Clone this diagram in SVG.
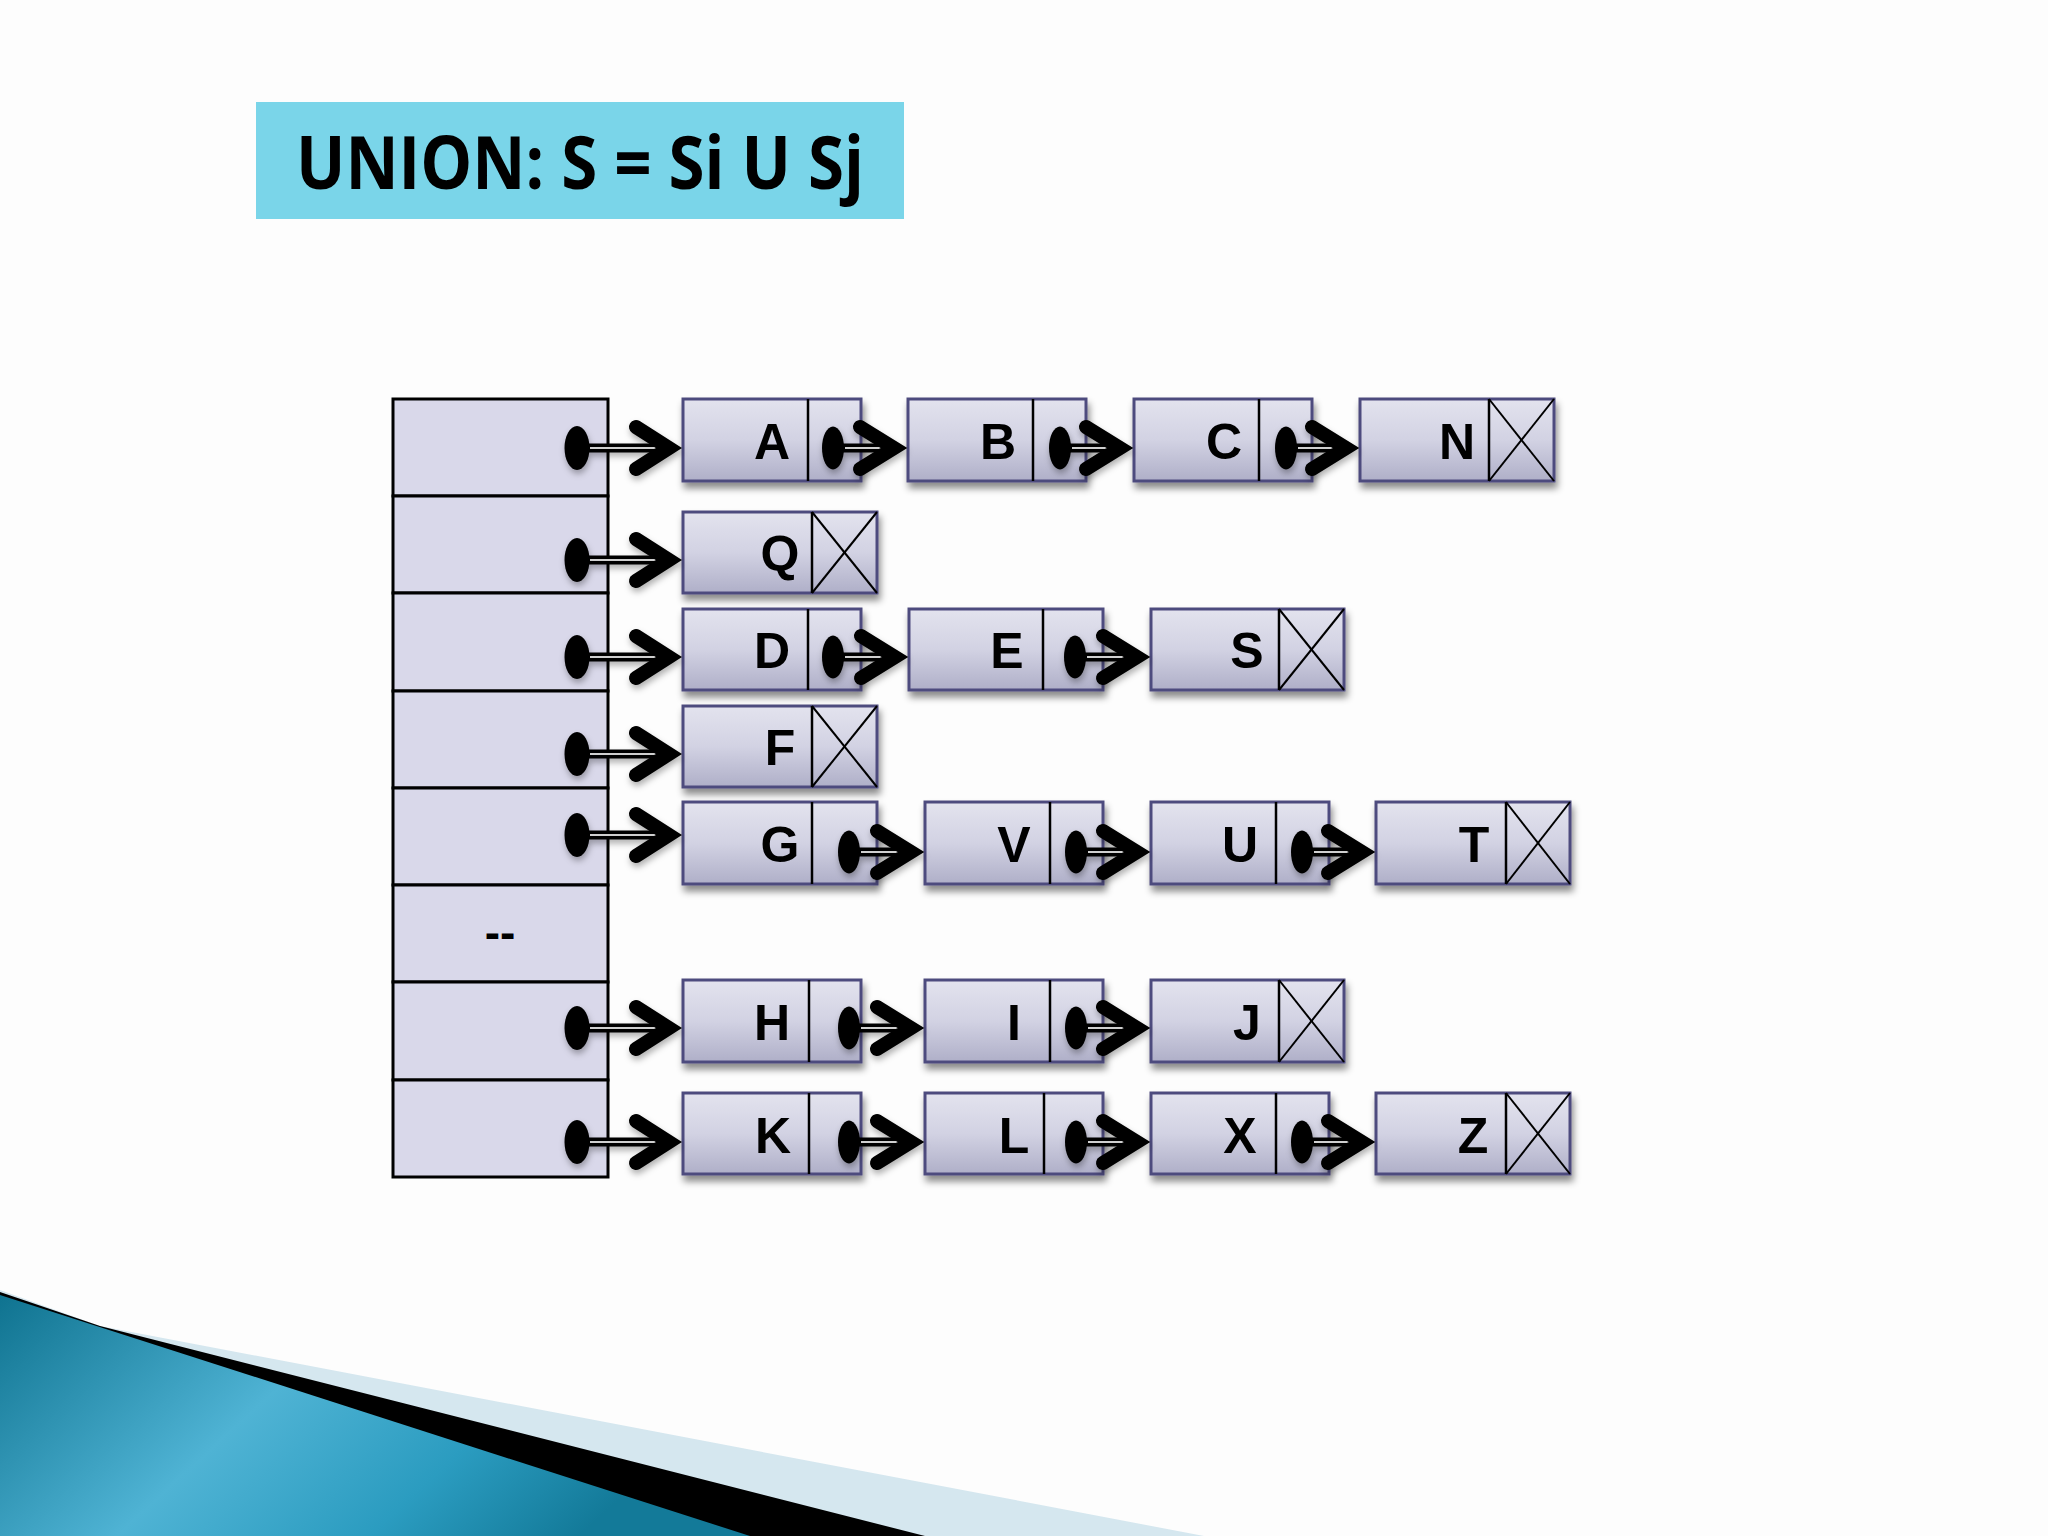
<svg xmlns="http://www.w3.org/2000/svg" width="2048" height="1536" viewBox="0 0 2048 1536">
<defs>
<linearGradient id="ng" x1="0" y1="0" x2="0" y2="1">
<stop offset="0" stop-color="#e3e3ee"/>
<stop offset="0.5" stop-color="#d2d2e3"/>
<stop offset="1" stop-color="#afafc8"/>
</linearGradient>
<linearGradient id="teal" x1="0" y1="0" x2="1" y2="0.35">
<stop offset="0" stop-color="#0f7390"/>
<stop offset="0.45" stop-color="#4fb3d4"/>
<stop offset="0.75" stop-color="#2b9cc0"/>
<stop offset="1" stop-color="#137a99"/>
</linearGradient>
<filter id="sh" x="-10%" y="-10%" width="130%" height="140%">
<feDropShadow dx="2" dy="6" stdDeviation="3.5" flood-color="#000" flood-opacity="0.45"/>
</filter>
<filter id="sh2" x="-10%" y="-20%" width="130%" height="150%">
<feDropShadow dx="1" dy="4" stdDeviation="3" flood-color="#000" flood-opacity="0.3"/>
</filter>
<style>
.nb{fill:url(#ng);stroke:#4e4b7e;stroke-width:3}
.dv{stroke:#000;stroke-width:2.5}
.x{stroke:#000;stroke-width:2}
.lbl{font-family:"Liberation Sans",Arial,sans-serif;font-weight:bold;font-size:50px;text-anchor:middle;fill:#000}
.cell{fill:#d9d8ea;stroke:#000;stroke-width:3}
.dot{fill:#000}
.sh1{stroke:#000;stroke-width:9}
.sh2{stroke:#cfcfcf;stroke-width:2}
.hd{fill:none;stroke:#000;stroke-width:14;stroke-linecap:round;stroke-linejoin:miter}
.title{font-family:"Open Sans","Liberation Sans",sans-serif;font-weight:bold;font-size:74px;fill:#000}
</style>
</defs>
<rect width="2048" height="1536" fill="#fdfdfd"/>
<g id="decoration">
<polygon points="0,1290 100,1326 1204,1536 0,1536" fill="#d5e7ef"/>
<polygon points="0,1292 100,1326 925,1536 0,1536" fill="#000"/>
<polygon points="0,1295 750,1536 0,1536" fill="url(#teal)"/>
</g>
<g id="title">
<rect x="256" y="102" width="648" height="117" fill="#7ad5e9"/>
<text class="title" x="296" y="189" textLength="568" lengthAdjust="spacingAndGlyphs">UNION: S = Si U Sj</text>
</g>
<g id="array">
<rect class="cell" x="393" y="399" width="215" height="97"/>
<rect class="cell" x="393" y="496" width="215" height="97"/>
<rect class="cell" x="393" y="593" width="215" height="98"/>
<rect class="cell" x="393" y="691" width="215" height="97"/>
<rect class="cell" x="393" y="788" width="215" height="97"/>
<rect class="cell" x="393" y="885" width="215" height="97"/>
<rect class="cell" x="393" y="982" width="215" height="98"/>
<rect class="cell" x="393" y="1080" width="215" height="97"/>
<text class="lbl" x="500" y="948" style="font-size:46px">--</text>
</g>
<g id="nodes" filter="url(#sh)">
<g id="node-A"><rect class="nb" x="683" y="399" width="178" height="82"/><line class="dv" x1="808" y1="399" x2="808" y2="481"/><text class="lbl" x="772" y="459">A</text></g>
<g id="node-B"><rect class="nb" x="908" y="399" width="178" height="82"/><line class="dv" x1="1033" y1="399" x2="1033" y2="481"/><text class="lbl" x="998" y="459">B</text></g>
<g id="node-C"><rect class="nb" x="1134" y="399" width="178" height="82"/><line class="dv" x1="1259" y1="399" x2="1259" y2="481"/><text class="lbl" x="1224" y="459">C</text></g>
<g id="node-N"><rect class="nb" x="1360" y="399" width="194" height="82"/><line class="dv" x1="1489" y1="399" x2="1489" y2="481"/><line class="x" x1="1489" y1="399" x2="1554" y2="481"/><line class="x" x1="1489" y1="481" x2="1554" y2="399"/><text class="lbl" x="1457" y="459">N</text></g>
<g id="node-Q"><rect class="nb" x="683" y="512" width="194" height="81"/><line class="dv" x1="812" y1="512" x2="812" y2="593"/><line class="x" x1="812" y1="512" x2="877" y2="593"/><line class="x" x1="812" y1="593" x2="877" y2="512"/><text class="lbl" x="780" y="571">Q</text></g>
<g id="node-D"><rect class="nb" x="683" y="609" width="178" height="81"/><line class="dv" x1="808" y1="609" x2="808" y2="690"/><text class="lbl" x="772" y="668">D</text></g>
<g id="node-E"><rect class="nb" x="909" y="609" width="194" height="81"/><line class="dv" x1="1043" y1="609" x2="1043" y2="690"/><text class="lbl" x="1007" y="668">E</text></g>
<g id="node-S"><rect class="nb" x="1151" y="609" width="193" height="81"/><line class="dv" x1="1279" y1="609" x2="1279" y2="690"/><line class="x" x1="1279" y1="609" x2="1344" y2="690"/><line class="x" x1="1279" y1="690" x2="1344" y2="609"/><text class="lbl" x="1247" y="668">S</text></g>
<g id="node-F"><rect class="nb" x="683" y="706" width="194" height="81"/><line class="dv" x1="812" y1="706" x2="812" y2="787"/><line class="x" x1="812" y1="706" x2="877" y2="787"/><line class="x" x1="812" y1="787" x2="877" y2="706"/><text class="lbl" x="780" y="765">F</text></g>
<g id="node-G"><rect class="nb" x="683" y="802" width="194" height="82"/><line class="dv" x1="812" y1="802" x2="812" y2="884"/><text class="lbl" x="780" y="862">G</text></g>
<g id="node-V"><rect class="nb" x="925" y="802" width="178" height="82"/><line class="dv" x1="1050" y1="802" x2="1050" y2="884"/><text class="lbl" x="1014" y="862">V</text></g>
<g id="node-U"><rect class="nb" x="1151" y="802" width="178" height="82"/><line class="dv" x1="1276" y1="802" x2="1276" y2="884"/><text class="lbl" x="1240" y="862">U</text></g>
<g id="node-T"><rect class="nb" x="1376" y="802" width="194" height="82"/><line class="dv" x1="1506" y1="802" x2="1506" y2="884"/><line class="x" x1="1506" y1="802" x2="1570" y2="884"/><line class="x" x1="1506" y1="884" x2="1570" y2="802"/><text class="lbl" x="1474" y="862">T</text></g>
<g id="node-H"><rect class="nb" x="683" y="980" width="178" height="82"/><line class="dv" x1="809" y1="980" x2="809" y2="1062"/><text class="lbl" x="772" y="1040">H</text></g>
<g id="node-I"><rect class="nb" x="925" y="980" width="178" height="82"/><line class="dv" x1="1050" y1="980" x2="1050" y2="1062"/><text class="lbl" x="1014" y="1040">I</text></g>
<g id="node-J"><rect class="nb" x="1151" y="980" width="193" height="82"/><line class="dv" x1="1279" y1="980" x2="1279" y2="1062"/><line class="x" x1="1279" y1="980" x2="1344" y2="1062"/><line class="x" x1="1279" y1="1062" x2="1344" y2="980"/><text class="lbl" x="1247" y="1040">J</text></g>
<g id="node-K"><rect class="nb" x="683" y="1093" width="178" height="81"/><line class="dv" x1="809" y1="1093" x2="809" y2="1174"/><text class="lbl" x="773" y="1153">K</text></g>
<g id="node-L"><rect class="nb" x="925" y="1093" width="178" height="81"/><line class="dv" x1="1044" y1="1093" x2="1044" y2="1174"/><text class="lbl" x="1014" y="1153">L</text></g>
<g id="node-X"><rect class="nb" x="1151" y="1093" width="178" height="81"/><line class="dv" x1="1276" y1="1093" x2="1276" y2="1174"/><text class="lbl" x="1240" y="1153">X</text></g>
<g id="node-Z"><rect class="nb" x="1376" y="1093" width="194" height="81"/><line class="dv" x1="1506" y1="1093" x2="1506" y2="1174"/><line class="x" x1="1506" y1="1093" x2="1570" y2="1174"/><line class="x" x1="1506" y1="1174" x2="1570" y2="1093"/><text class="lbl" x="1473" y="1153">Z</text></g>
</g>
<g id="connectors" filter="url(#sh2)">
<g><ellipse class="dot" cx="577" cy="448" rx="12.5" ry="22"/><line class="sh1" x1="577" y1="448" x2="666" y2="448"/><line class="sh2" x1="590" y1="448" x2="660" y2="448"/><polyline class="hd" points="636,427 669,448 636,469"/></g>
<g><ellipse class="dot" cx="577" cy="560" rx="12.5" ry="22"/><line class="sh1" x1="577" y1="560" x2="666" y2="560"/><line class="sh2" x1="590" y1="560" x2="660" y2="560"/><polyline class="hd" points="636,539 669,560 636,581"/></g>
<g><ellipse class="dot" cx="577" cy="657" rx="12.5" ry="22"/><line class="sh1" x1="577" y1="657" x2="666" y2="657"/><line class="sh2" x1="590" y1="657" x2="660" y2="657"/><polyline class="hd" points="636,636 669,657 636,678"/></g>
<g><ellipse class="dot" cx="577" cy="754" rx="12.5" ry="22"/><line class="sh1" x1="577" y1="754" x2="666" y2="754"/><line class="sh2" x1="590" y1="754" x2="660" y2="754"/><polyline class="hd" points="636,733 669,754 636,775"/></g>
<g><ellipse class="dot" cx="577" cy="835" rx="12.5" ry="22"/><line class="sh1" x1="577" y1="835" x2="666" y2="835"/><line class="sh2" x1="590" y1="835" x2="660" y2="835"/><polyline class="hd" points="636,814 669,835 636,856"/></g>
<g><ellipse class="dot" cx="577" cy="1028" rx="12.5" ry="22"/><line class="sh1" x1="577" y1="1028" x2="666" y2="1028"/><line class="sh2" x1="590" y1="1028" x2="660" y2="1028"/><polyline class="hd" points="636,1007 669,1028 636,1049"/></g>
<g><ellipse class="dot" cx="577" cy="1142" rx="12.5" ry="22"/><line class="sh1" x1="577" y1="1142" x2="666" y2="1142"/><line class="sh2" x1="590" y1="1142" x2="660" y2="1142"/><polyline class="hd" points="636,1121 669,1142 636,1163"/></g>
<g><ellipse class="dot" cx="833" cy="448" rx="11" ry="21.5"/><line class="sh1" x1="833" y1="448" x2="892" y2="448"/><line class="sh2" x1="845" y1="448" x2="886" y2="448"/><polyline class="hd" points="860,427 894,448 860,469"/></g>
<g><ellipse class="dot" cx="1060" cy="448" rx="11" ry="21.5"/><line class="sh1" x1="1060" y1="448" x2="1118" y2="448"/><line class="sh2" x1="1072" y1="448" x2="1112" y2="448"/><polyline class="hd" points="1086,427 1120,448 1086,469"/></g>
<g><ellipse class="dot" cx="1286" cy="448" rx="11" ry="21.5"/><line class="sh1" x1="1286" y1="448" x2="1344" y2="448"/><line class="sh2" x1="1298" y1="448" x2="1338" y2="448"/><polyline class="hd" points="1312,427 1346,448 1312,469"/></g>
<g><ellipse class="dot" cx="833" cy="657" rx="11" ry="21.5"/><line class="sh1" x1="833" y1="657" x2="893" y2="657"/><line class="sh2" x1="845" y1="657" x2="887" y2="657"/><polyline class="hd" points="861,636 895,657 861,678"/></g>
<g><ellipse class="dot" cx="1075" cy="657" rx="11" ry="21.5"/><line class="sh1" x1="1075" y1="657" x2="1135" y2="657"/><line class="sh2" x1="1087" y1="657" x2="1129" y2="657"/><polyline class="hd" points="1103,636 1137,657 1103,678"/></g>
<g><ellipse class="dot" cx="849" cy="852" rx="11" ry="21.5"/><line class="sh1" x1="849" y1="852" x2="909" y2="852"/><line class="sh2" x1="861" y1="852" x2="903" y2="852"/><polyline class="hd" points="877,831 911,852 877,873"/></g>
<g><ellipse class="dot" cx="1076" cy="852" rx="11" ry="21.5"/><line class="sh1" x1="1076" y1="852" x2="1135" y2="852"/><line class="sh2" x1="1088" y1="852" x2="1129" y2="852"/><polyline class="hd" points="1103,831 1137,852 1103,873"/></g>
<g><ellipse class="dot" cx="1302" cy="852" rx="11" ry="21.5"/><line class="sh1" x1="1302" y1="852" x2="1360" y2="852"/><line class="sh2" x1="1314" y1="852" x2="1354" y2="852"/><polyline class="hd" points="1328,831 1362,852 1328,873"/></g>
<g><ellipse class="dot" cx="849" cy="1028" rx="11" ry="21.5"/><line class="sh1" x1="849" y1="1028" x2="909" y2="1028"/><line class="sh2" x1="861" y1="1028" x2="903" y2="1028"/><polyline class="hd" points="877,1007 911,1028 877,1049"/></g>
<g><ellipse class="dot" cx="1076" cy="1028" rx="11" ry="21.5"/><line class="sh1" x1="1076" y1="1028" x2="1135" y2="1028"/><line class="sh2" x1="1088" y1="1028" x2="1129" y2="1028"/><polyline class="hd" points="1103,1007 1137,1028 1103,1049"/></g>
<g><ellipse class="dot" cx="849" cy="1142" rx="11" ry="21.5"/><line class="sh1" x1="849" y1="1142" x2="909" y2="1142"/><line class="sh2" x1="861" y1="1142" x2="903" y2="1142"/><polyline class="hd" points="877,1121 911,1142 877,1163"/></g>
<g><ellipse class="dot" cx="1076" cy="1142" rx="11" ry="21.5"/><line class="sh1" x1="1076" y1="1142" x2="1135" y2="1142"/><line class="sh2" x1="1088" y1="1142" x2="1129" y2="1142"/><polyline class="hd" points="1103,1121 1137,1142 1103,1163"/></g>
<g><ellipse class="dot" cx="1302" cy="1142" rx="11" ry="21.5"/><line class="sh1" x1="1302" y1="1142" x2="1360" y2="1142"/><line class="sh2" x1="1314" y1="1142" x2="1354" y2="1142"/><polyline class="hd" points="1328,1121 1362,1142 1328,1163"/></g>
</g>
</svg>
